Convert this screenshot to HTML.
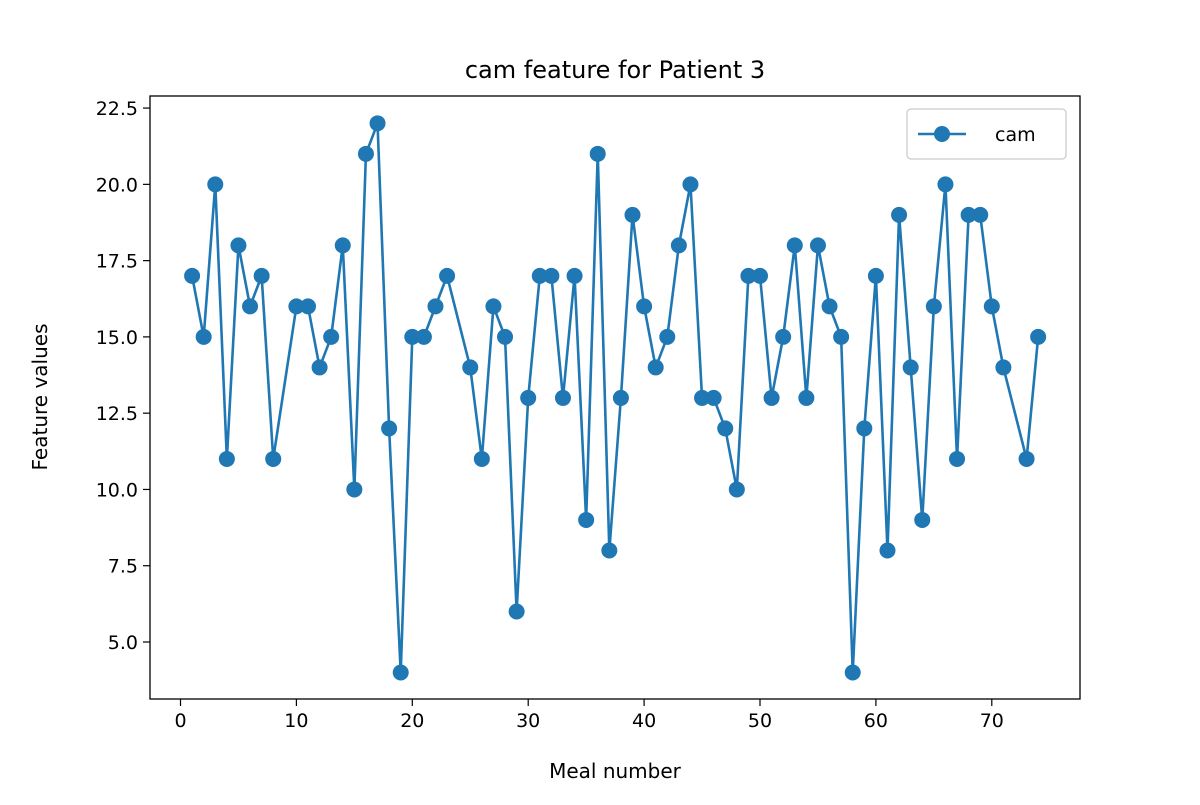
<!DOCTYPE html>
<html><head><meta charset="utf-8"><style>
body{margin:0;background:#fff;}
svg{font-family:"DejaVu Sans","Liberation Sans",sans-serif;}
</style></head><body>
<svg id="chart" width="1200" height="800"></svg>
<script>
const mealNumbers=[1,2,3,4,5,6,7,8,10,11,12,13,14,15,16,17,18,19,20,21,22,23,25,26,27,28,29,30,31,32,33,34,35,36,37,38,39,40,41,42,43,44,45,46,47,48,49,50,51,52,53,54,55,56,57,58,59,60,61,62,63,64,65,66,67,68,69,70,71,73,74];
const camValues=[17,15,20,11,18,16,17,11,16,16,14,15,18,10,21,22,12,4,15,15,16,17,14,11,16,15,6,13,17,17,13,17,9,21,8,13,19,16,14,15,18,20,13,13,12,10,17,17,13,15,18,13,18,16,15,4,12,17,8,19,14,9,16,20,11,19,19,16,14,11,15];
const xTicks=[0,10,20,30,40,50,60,70];
const yTicks=[5.0,7.5,10.0,12.5,15.0,17.5,20.0,22.5];
const NS="http://www.w3.org/2000/svg";
const svg=document.getElementById('chart');
const L=150,R=1080,T=96,B=699;
const xs=v=>180.5+v*11.59;
const ys=v=>642-(v-5)*30.51;
function mk(tag,attrs,parent){const e=document.createElementNS(NS,tag);for(const k in attrs)e.setAttribute(k,attrs[k]);(parent||svg).appendChild(e);return e;}
const title=mk('text',{x:615,y:78,'text-anchor':'middle','font-size':24,fill:'#000'});title.textContent='cam feature for Patient 3';


xTicks.forEach(t=>{const g=mk('g',{});


mk('line',{x1:xs(t),x2:xs(t),y1:B,y2:B+7,stroke:'#000','stroke-width':1.2},g);
const tx=mk('text',{x:xs(t),y:B+28,'text-anchor':'middle','font-size':19},g);tx.textContent=t;});
yTicks.forEach(t=>{const g=mk('g',{});


mk('line',{x1:L-7,x2:L,y1:ys(t),y2:ys(t),stroke:'#000','stroke-width':1.2},g);
const tx=mk('text',{x:L-12,y:ys(t)+7,'text-anchor':'end','font-size':19},g);tx.textContent=t.toFixed(1);});
const xl=mk('text',{x:615,y:778,'text-anchor':'middle','font-size':20});xl.textContent='Meal number';


const yl=mk('text',{x:0,y:0,'text-anchor':'middle','font-size':20,transform:'translate(47,397) rotate(-90)'});yl.textContent='Feature values';


const pts=mealNumbers.map((m,i)=>xs(m)+','+ys(camValues[i])).join(' ');
const line=mk('polyline',{points:pts,fill:'none',stroke:'#1f77b4','stroke-width':2.6,'stroke-linejoin':'round'});


mealNumbers.forEach((m,i)=>{const c=mk('circle',{cx:xs(m),cy:ys(camValues[i]),r:8,fill:'#1f77b4'});

});
const frame=mk('rect',{x:L,y:T,width:R-L,height:B-T,fill:'none',stroke:'#000','stroke-width':1.3});


const lg=mk('g',{});


mk('rect',{x:907,y:109,width:159,height:50,rx:4,fill:'#fff',stroke:'#ccc','stroke-width':1.3},lg);
mk('line',{x1:918,x2:966,y1:134,y2:134,stroke:'#1f77b4','stroke-width':2.6},lg);
mk('circle',{cx:942,cy:134,r:8,fill:'#1f77b4'},lg);
const lt=mk('text',{x:995,y:141,'font-size':19},lg);lt.textContent='cam';
</script>
</body></html>
